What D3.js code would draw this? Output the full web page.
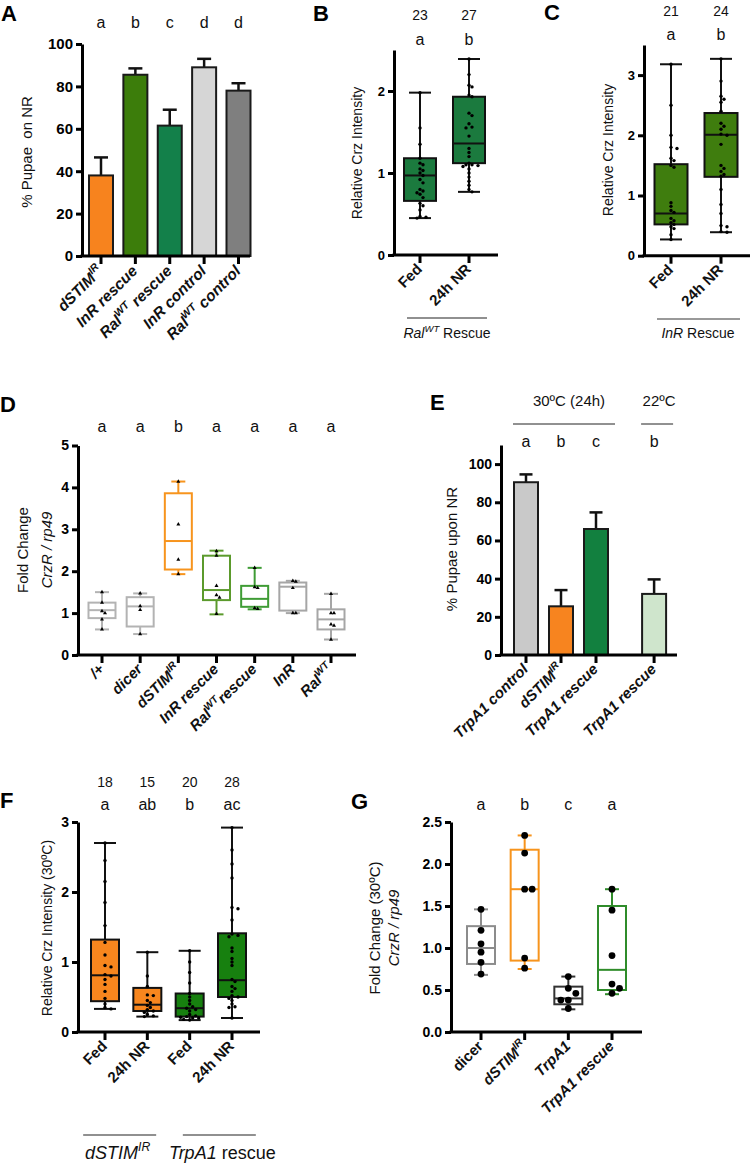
<!DOCTYPE html>
<html><head><meta charset="utf-8">
<script src="https://cdn.jsdelivr.net/npm/d3@7"></script>
<style>body{margin:0;background:#fff} svg{display:block} text{font-family:"Liberation Sans",Arial,Helvetica,sans-serif}</style>
</head><body><svg id="fig" width="750" height="1165"></svg>
<script>
// ---------------- DATA ----------------
// Panel A
const A_categories = ["dSTIM{IR}", "InR rescue", "Ral{WT} rescue", "InR control", "Ral{WT} control"];
const A_means = [38, 85.5, 61.5, 89, 78];
const A_errTop = [46.5, 88.5, 69, 93, 81.5];
const A_letters = ["a", "b", "c", "d", "d"];
const A_colors = ["#f7831e", "#3c7d0b", "#13804a", "#d6d6d6", "#7f7f7f"];
const A_yTicks = [0, 20, 40, 60, 80, 100];

// Panel B
const B_categories = ["Fed", "24h NR"];
const B_stats = [[0.45, 0.66, 0.97, 1.18, 1.98], [0.77, 1.12, 1.36, 1.93, 2.39]]; // min,q1,med,q3,max
const B_points = [
  [1.98, 1.55, 1.35, 1.18, 1.12, 1.1, 1.05, 1.03, 1.0, 0.97, 0.92, 0.88, 0.8, 0.78, 0.76, 0.74, 0.7, 0.63, 0.6, 0.55, 0.47, 0.46, 0.45],
  [2.39, 2.2, 2.07, 2.05, 1.95, 1.93, 1.73, 1.7, 1.6, 1.56, 1.55, 1.45, 1.3, 1.25, 1.2, 1.12, 1.1, 1.1, 1.09, 1.08, 1.05, 1.0, 0.95, 0.9, 0.85, 0.8, 0.77]];
const B_counts = ["23", "27"];
const B_letters = ["a", "b"];
const B_yTicks = [0, 1, 2];

// Panel C
const C_categories = ["Fed", "24h NR"];
const C_stats = [[0.27, 0.52, 0.70, 1.52, 3.18], [0.39, 1.31, 2.01, 2.37, 3.27]];
const C_points = [
  [3.18, 2.5, 2.0, 1.8, 1.78, 1.62, 1.58, 1.5, 1.47, 0.88, 0.82, 0.75, 0.72, 0.62, 0.58, 0.55, 0.52, 0.48, 0.45, 0.35, 0.27],
  [3.27, 2.9, 2.65, 2.6, 2.55, 2.4, 2.2, 2.15, 2.1, 2.02, 2.0, 1.85, 1.5, 1.45, 1.4, 1.35, 1.32, 1.1, 0.85, 0.7, 0.5, 0.48, 0.4, 0.39]];
const C_counts = ["21", "24"];
const C_letters = ["a", "b"];
const C_yTicks = [0, 1, 2, 3];

// Panel D
const D_categories = ["/+", "dicer", "dSTIM{IR}", "InR rescue", "Ral{WT}rescue", "InR", "Ral{WT}"];
const D_stats = [[0.61, 0.88, 1.07, 1.25, 1.50], [0.50, 0.68, 1.16, 1.38, 1.47], [1.93, 2.04, 2.72, 3.86, 4.14],
  [0.97, 1.31, 1.55, 2.37, 2.49], [1.09, 1.15, 1.34, 1.65, 2.08], [1.00, 1.06, 1.63, 1.73, 1.77], [0.37, 0.61, 0.85, 1.09, 1.46]];
const D_points = [[1.5, 1.25, 1.05, 1.0, 0.85, 0.61], [1.47, 1.17, 1.08, 0.5], [4.14, 3.12, 2.28, 1.93],
  [2.48, 2.37, 1.65, 1.43, 1.37, 0.98], [2.08, 1.62, 1.6, 1.12, 1.1], [1.77, 1.75, 1.6, 1.0, 1.0], [1.46, 1.0, 1.0, 0.73, 0.7, 0.37]];
const D_colors = ["#b3b3b3", "#b3b3b3", "#f7941d", "#5b9a2c", "#3f9c35", "#a6a6a6", "#a6a6a6"];
const D_letters = ["a", "a", "b", "a", "a", "a", "a"];
const D_yTicks = [0, 1, 2, 3, 4, 5];

// Panel E
const E_categories = ["TrpA1 control", "dSTIM{IR}", "TrpA1 rescue", "TrpA1 rescue"];
const E_groupOf = [0, 0, 0, 1];
const E_groups = ["30ºC (24h)", "22ºC"];
const E_means = [90.5, 25.5, 66, 32];
const E_errTop = [94.6, 34, 74.7, 39.6];
const E_colors = ["#c9c9c9", "#f7841f", "#12803f", "#cfe5cc"];
const E_letters = ["a", "b", "c", "b"];
const E_yTicks = [0, 20, 40, 60, 80, 100];

// Panel F
const F_categories = ["Fed", "24h NR", "Fed", "24h NR"];
const F_stats = [[0.33, 0.44, 0.81, 1.32, 2.70], [0.22, 0.30, 0.39, 0.63, 1.14], [0.17, 0.22, 0.34, 0.55, 1.16], [0.20, 0.50, 0.74, 1.41, 2.92]];
const F_points = [
  [2.70, 2.45, 2.15, 1.85, 1.52, 1.28, 1.1, 0.95, 0.93, 0.82, 0.80, 0.75, 0.68, 0.58, 0.48, 0.40, 0.35, 0.33],
  [1.14, 0.8, 0.65, 0.53, 0.52, 0.45, 0.42, 0.38, 0.35, 0.32, 0.3, 0.28, 0.25, 0.23, 0.22],
  [1.16, 1.0, 0.85, 0.7, 0.55, 0.5, 0.45, 0.4, 0.36, 0.34, 0.32, 0.3, 0.25, 0.23, 0.22, 0.21, 0.2, 0.2, 0.18, 0.17],
  [2.92, 2.6, 2.4, 2.2, 1.78, 1.76, 1.6, 1.4, 1.38, 1.36, 1.2, 1.15, 1.05, 1.0, 0.95, 0.75, 0.72, 0.65, 0.62, 0.58, 0.52, 0.5, 0.48, 0.45, 0.4, 0.36, 0.35, 0.2]];
const F_colors = ["#f7861e", "#f7861e", "#17800f", "#17800f"];
const F_counts = ["18", "15", "20", "28"];
const F_letters = ["a", "ab", "b", "ac"];
const F_groups = ["dSTIM{IR}", "*TrpA1* rescue"];
const F_yTicks = [0, 1, 2, 3];

// Panel G
const G_categories = ["dicer", "dSTIM{IR}", "TrpA1", "TrpA1 rescue"];
const G_stats = [[0.68, 0.81, 1.0, 1.26, 1.46], [0.75, 0.85, 1.70, 2.17, 2.34], [0.27, 0.33, 0.40, 0.54, 0.66], [0.45, 0.50, 0.74, 1.50, 1.70]];
const G_points = [[1.46, 1.21, 1.05, 0.95, 0.83, 0.69], [2.34, 2.13, 1.70, 1.70, 0.88, 0.76], [0.66, 0.52, 0.46, 0.38, 0.38, 0.28], [1.70, 1.45, 0.91, 0.57, 0.52, 0.46]];
const G_colors = ["#8c8c8c", "#f7941d", "#333333", "#2f8c2a"];
const G_letters = ["a", "b", "c", "a"];
const G_yTicks = [0, 0.5, 1.0, 1.5, 2.0, 2.5];

// ---------------- HELPERS ----------------
const svg = d3.select("#fig");

// markup: {..} superscript, *..* toggles italic; inside {} a leading * makes it italic
function rich(t, str, baseItalic, fs) {
  const parts = str.split(/(\{[^}]*\}|\*[^*]*\*)/).filter(s => s.length);
  let shifted = false;
  parts.forEach(p => {
    let txt = p, sup = false, ital = baseItalic;
    if (p[0] === "{") { txt = p.slice(1, -1); sup = true; if (txt[0] === "*") { txt = txt.replace(/\*/g, ""); ital = true; } }
    else if (p[0] === "*") { txt = p.slice(1, -1); ital = !baseItalic; }
    const ts = t.append("tspan").text(txt).attr("font-style", ital ? "italic" : "normal");
    if (sup) { ts.attr("font-size", fs * 0.68); if (!shifted) { ts.attr("dy", -fs * 0.42); shifted = true; } }
    else if (shifted) { ts.attr("dy", fs * 0.42); shifted = false; }
  });
}

function text(g, x, y, str, o = {}) {
  const fs = o.size || 14;
  const t = g.append("text").attr("x", x).attr("y", y).attr("font-size", fs)
    .attr("text-anchor", o.anchor || "middle").attr("font-weight", o.bold ? "bold" : "normal").attr("fill", "#111");
  if (o.rotate !== undefined) t.attr("transform", `rotate(${o.rotate},${x},${y})`);
  rich(t, str, !!o.italic, fs);
  return t;
}

function yAxis(g, scale, x, ticks, fmt, fs) {
  const a = g.append("g").attr("transform", `translate(${x},0)`)
    .call(d3.axisLeft(scale).tickValues(ticks).tickSize(6).tickSizeOuter(0).tickPadding(3).tickFormat(fmt));
  a.select(".domain").attr("stroke", "#000").attr("stroke-width", 3);
  a.selectAll(".tick line").attr("stroke", "#000").attr("stroke-width", 3);
  a.selectAll(".tick text").attr("font-size", fs).attr("font-weight", "bold").attr("fill", "#000")
    .attr("font-family", '"Liberation Sans", Arial, sans-serif');
}

function xAxis(g, xScale, cats, x0, x1, y) {
  g.append("line").attr("x1", x0 - 1.5).attr("x2", x1).attr("y1", y).attr("y2", y).attr("stroke", "#000").attr("stroke-width", 3);
  g.selectAll(null).data(cats).join("line")
    .attr("x1", (d, i) => xScale(i)).attr("x2", (d, i) => xScale(i)).attr("y1", y).attr("y2", y + 8)
    .attr("stroke", "#000").attr("stroke-width", 3);
}

function xLabels(g, cats, xScale, y, fs, italic, dx, dy) {
  cats.forEach((c, i) => {
    const x = xScale(i) + dx, yy = y + dy;
    text(g, x, yy, c, { size: fs, bold: true, italic: italic, anchor: "end", rotate: -45 });
  });
}

function dodge(vals, yScale, r, step) {
  const placed = [];
  return vals.map(v => {
    const y = yScale(v);
    const cands = [0];
    for (let k = 1; k < 8; k++) { cands.push(k * step, -k * step); }
    let off = 0;
    for (const c of cands) {
      if (placed.every(p => Math.hypot(p[0] - c, p[1] - y) >= 2 * r)) { off = c; break; }
    }
    placed.push([off, y]);
    return [off, y];
  });
}

function boxes(g, o) {
  o.stats.forEach((s, i) => {
    const cx = o.x(i), w = o.w, col = o.stroke[i], fill = o.fill[i];
    const [mn, q1, md, q3, mx] = s.map(o.y);
    const ln = (x1, y1, x2, y2) => g.append("line").attr("x1", x1).attr("x2", x2).attr("y1", y1).attr("y2", y2)
      .attr("stroke", col).attr("stroke-width", o.sw);
    ln(cx, q3, cx, mx); ln(cx, q1, cx, mn);
    ln(cx - o.cap / 2, mx, cx + o.cap / 2, mx); ln(cx - o.cap / 2, mn, cx + o.cap / 2, mn);
    g.append("rect").attr("x", cx - w / 2).attr("y", q3).attr("width", w).attr("height", q1 - q3)
      .attr("fill", fill).attr("stroke", col).attr("stroke-width", o.sw);
    ln(cx - w / 2, md, cx + w / 2, md);
    const pts = dodge(o.points[i], o.y, o.r, o.step);
    pts.forEach(([off, y]) => {
      if (o.tri) {
        g.append("path").attr("d", d3.symbol(d3.symbolTriangle, 7)()).attr("transform", `translate(${cx + off},${y})`).attr("fill", "#000");
      } else {
        g.append("circle").attr("cx", cx + off).attr("cy", y).attr("r", o.r).attr("fill", "#000");
      }
    });
  });
}

function bars(g, o) {
  o.means.forEach((m, i) => {
    const cx = o.x(i);
    g.append("line").attr("x1", cx).attr("x2", cx).attr("y1", o.y(m)).attr("y2", o.y(o.err[i])).attr("stroke", "#111").attr("stroke-width", 2.5);
    g.append("line").attr("x1", cx - o.cap / 2).attr("x2", cx + o.cap / 2).attr("y1", o.y(o.err[i])).attr("y2", o.y(o.err[i])).attr("stroke", "#111").attr("stroke-width", 2.5);
    g.append("rect").attr("x", cx - o.w / 2).attr("y", o.y(m)).attr("width", o.w).attr("height", o.y(0) - o.y(m))
      .attr("fill", o.colors[i]).attr("stroke", "#1a1a1a").attr("stroke-width", 2);
  });
}

const title = (x, y, s) => svg.append("text").attr("x", x).attr("y", y).attr("font-size", 22).attr("font-weight", "bold").attr("fill", "#000").text(s);

// ---------------- PANEL A ----------------
{
  const g = svg.append("g");
  const y = d3.scaleLinear().domain([0, 100]).range([256, 44]);
  const x = d3.scaleLinear().domain([0, A_categories.length - 1]).range([101, 238.5]);
  bars(g, { means: A_means, err: A_errTop, colors: A_colors, x, y, w: 24, cap: 14 });
  yAxis(g, y, 82, A_yTicks, d3.format("d"), 15);
  xAxis(g, x, A_categories, 82, 250, 256);
  xLabels(g, A_categories, x, 256, 15.5, true, 3, 16);
  A_letters.forEach((l, i) => text(g, x(i), 28, l, { size: 16 }));
  text(g, 32, 152, "% Pupae  on NR", { size: 15, rotate: -90 }).style("white-space", "pre");
  title(1, 21, "A");
}

// ---------------- PANEL B ----------------
{
  const g = svg.append("g");
  const y = d3.scaleLinear().domain([0, 2.5]).range([255, 50]);
  const x = d3.scaleLinear().domain([0, 1]).range([420, 469]);
  boxes(g, { stats: B_stats, points: B_points, x, y, w: 32, cap: 22, sw: 2, stroke: ["#111", "#111"], fill: ["#1b7a3e", "#1b7a3e"], r: 1.7, step: 3 });
  yAxis(g, y, 394, B_yTicks, d3.format("d"), 13);
  xAxis(g, x, B_categories, 394, 498, 255);
  xLabels(g, B_categories, x, 255, 15, false, 3, 15);
  B_counts.forEach((c, i) => text(g, x(i), 20, c, { size: 14 }));
  B_letters.forEach((l, i) => text(g, x(i), 45, l, { size: 16 }));
  text(g, 362, 153, "Relative Crz Intensity", { size: 14, rotate: -90 });
  g.append("line").attr("x1", 407).attr("x2", 487).attr("y1", 318).attr("y2", 318).attr("stroke", "#222").attr("stroke-width", 1.2);
  text(g, 447, 338, "*Ral*{*WT*} Rescue", { size: 14 });
  title(313, 21, "B");
}

// ---------------- PANEL C ----------------
{
  const g = svg.append("g");
  const y = d3.scaleLinear().domain([0, 3.5]).range([255.7, 45]);
  const x = d3.scaleLinear().domain([0, 1]).range([671, 721]);
  boxes(g, { stats: C_stats, points: C_points, x, y, w: 33, cap: 22, sw: 2, stroke: ["#111", "#111"], fill: ["#3f7d0e", "#3f7d0e"], r: 1.7, step: 3 });
  yAxis(g, y, 644, C_yTicks, d3.format("d"), 13);
  xAxis(g, x, C_categories, 644, 750, 255.7);
  xLabels(g, C_categories, x, 255.7, 15, false, 3, 15);
  C_counts.forEach((c, i) => text(g, x(i), 16, c, { size: 14 }));
  C_letters.forEach((l, i) => text(g, x(i), 40, l, { size: 16 }));
  text(g, 613, 150, "Relative Crz Intensity", { size: 14, rotate: -90 });
  g.append("line").attr("x1", 657).attr("x2", 740).attr("y1", 319).attr("y2", 319).attr("stroke", "#777").attr("stroke-width", 1.4);
  text(g, 698, 338, "*InR* Rescue", { size: 14 });
  title(544, 20, "C");
}

// ---------------- PANEL D ----------------
{
  const g = svg.append("g");
  const y = d3.scaleLinear().domain([0, 5]).range([655, 445.5]);
  const x = d3.scaleLinear().domain([0, D_categories.length - 1]).range([102, 331]);
  boxes(g, { stats: D_stats, points: D_points, x, y, w: 27, cap: 14, sw: 2, stroke: D_colors, fill: D_colors.map(() => "#fff"), r: 1.3, step: 3, tri: true });
  yAxis(g, y, 78, D_yTicks, d3.format("d"), 14);
  xAxis(g, x, D_categories, 78, 356, 655);
  xLabels(g, D_categories, x, 655, 15, true, 3, 15);
  D_letters.forEach((l, i) => text(g, x(i), 432, l, { size: 16 }));
  text(g, 28, 550, "Fold Change", { size: 15, rotate: -90 });
  text(g, 52, 550, "*CrzR / rp49*", { size: 15, rotate: -90 });
  title(0, 412, "D");
}

// ---------------- PANEL E ----------------
{
  const g = svg.append("g");
  const y = d3.scaleLinear().domain([0, 110]).range([655, 445]);
  const step = d3.scaleLinear().domain([0, 1]).range([526, 561]);
  const groupGap = 0.66; // extra spacing between temperature groups (layout)
  const x = i => step(i + E_groupOf[i] * groupGap);
  bars(g, { means: E_means, err: E_errTop, colors: E_colors, x, y, w: 24, cap: 13 });
  yAxis(g, y, 501, E_yTicks, d3.format("d"), 14);
  xAxis(g, x, E_categories, 501, 677, 655);
  xLabels(g, E_categories, x, 655, 15, true, 3, 15);
  E_letters.forEach((l, i) => text(g, x(i), 447, l, { size: 16 }));
  E_groups.forEach((grp, k) => {
    const idx = E_groupOf.map((gi, i) => gi === k ? i : -1).filter(i => i >= 0);
    const xs = idx.map(x);
    const x1 = d3.min(xs) - 13, x2 = d3.max(xs) + 19;
    const cx = (x1 + x2) / 2;
    g.append("line").attr("x1", x1).attr("x2", x2).attr("y1", 424).attr("y2", 424).attr("stroke", "#222").attr("stroke-width", 1);
    text(g, k === 0 ? cx + 5 : cx + 2, 406, grp, { size: 15 });
  });
  text(g, 457, 549, "% Pupae upon NR", { size: 15, rotate: -90 });
  title(430, 410, "E");
}

// ---------------- PANEL F ----------------
{
  const g = svg.append("g");
  const y = d3.scaleLinear().domain([0, 3]).range([1032, 822]);
  const x = d3.scaleLinear().domain([0, F_categories.length - 1]).range([105, 232]);
  boxes(g, { stats: F_stats, points: F_points, x, y, w: 28, cap: 22, sw: 2, stroke: F_colors.map(() => "#111"), fill: F_colors, r: 1.7, step: 3 });
  yAxis(g, y, 78, F_yTicks, d3.format("d"), 14);
  xAxis(g, x, F_categories, 78, 260, 1032);
  xLabels(g, F_categories, x, 1032, 15, false, 3, 15);
  F_counts.forEach((c, i) => text(g, x(i), 787, c, { size: 14 }));
  F_letters.forEach((l, i) => text(g, x(i), 810, l, { size: 16 }));
  text(g, 52, 928, "Relative Crz Intensity (30ºC)", { size: 14, rotate: -90 });
  const lineShift = [-6.5, 8.5], lineW = 73; // layout of group underlines
  F_groups.forEach((grp, k) => {
    const cx = (x(2 * k) + x(2 * k + 1)) / 2 + lineShift[k];
    g.append("line").attr("x1", cx - lineW / 2).attr("x2", cx + lineW / 2).attr("y1", 1135).attr("y2", 1135).attr("stroke", "#222").attr("stroke-width", 1.2);
    text(g, cx + (k === 0 ? -2 : 3), 1159, grp, { size: 18, italic: k === 0 });
  });
  title(0, 808, "F");
}

// ---------------- PANEL G ----------------
{
  const g = svg.append("g");
  const y = d3.scaleLinear().domain([0, 2.5]).range([1032, 822]);
  const x = d3.scaleLinear().domain([0, G_categories.length - 1]).range([481, 612]);
  boxes(g, { stats: G_stats, points: G_points, x, y, w: 28, cap: 14, sw: 2, stroke: G_colors, fill: G_colors.map(() => "#fff"), r: 3.4, step: 7.5 });
  yAxis(g, y, 451, G_yTicks, d3.format(".1f"), 14);
  xAxis(g, x, G_categories, 451, 642, 1032);
  G_categories.forEach((c, i) => text(g, x(i) + 3, 1047, c, { size: 15, bold: true, italic: i > 0, anchor: "end", rotate: -45 }));
  G_letters.forEach((l, i) => text(g, x(i), 810, l, { size: 16 }));
  text(g, 380, 928, "Fold Change (30ºC)", { size: 15, rotate: -90 });
  text(g, 399, 928, "*CrzR / rp49*", { size: 15, rotate: -90 });
  title(351, 809, "G");
}
</script></body></html>
